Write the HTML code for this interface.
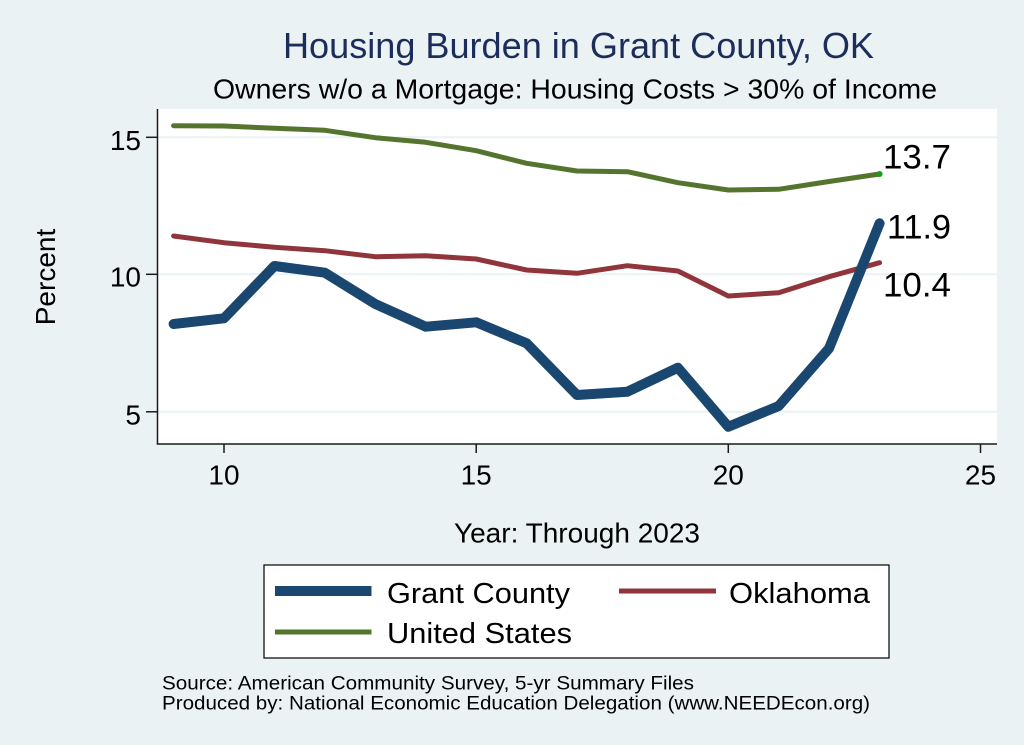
<!DOCTYPE html>
<html>
<head>
<meta charset="utf-8">
<style>
html,body{margin:0;padding:0;background:#eaf2f3;}
svg{display:block;}
text{font-family:"Liberation Sans",Arial,sans-serif;}
</style>
</head>
<body>
<svg width="1024" height="745" viewBox="0 0 1024 745" xmlns="http://www.w3.org/2000/svg">
  <rect x="0" y="0" width="1024" height="745" fill="#eaf2f3"/>
  <!-- Titles -->
  <text x="283" y="58" font-size="36" fill="#1c2d5c" textLength="591" lengthAdjust="spacingAndGlyphs">Housing Burden in Grant County, OK</text>
  <text x="213" y="98.5" font-size="28" fill="#000" textLength="724" lengthAdjust="spacingAndGlyphs">Owners w/o a Mortgage: Housing Costs &gt; 30% of Income</text>

  <!-- Plot area -->
  <rect x="157.5" y="109" width="839.5" height="335" fill="#ffffff"/>
  <!-- gridlines -->
  <g stroke="#eaf2f3" stroke-width="2">
    <line x1="158" y1="137.3" x2="997" y2="137.3"/>
    <line x1="158" y1="274.3" x2="997" y2="274.3"/>
    <line x1="158" y1="411.8" x2="997" y2="411.8"/>
  </g>

  <!-- Series -->
  <g fill="none" stroke-linejoin="round" stroke-linecap="round">
    <polyline stroke="#55752f" stroke-width="5" points="173.6,125.7 224,126 274.4,128.3 324.9,130.3 375.3,137.7 425.7,142.3 476.2,150.7 526.6,163.3 577,171 627.4,171.7 677.9,182.7 728.3,190 778.7,189.3 829.1,181.5 879.6,174"/>
    <polyline stroke="#90353b" stroke-width="5" points="173.6,236 224,242.7 274.4,247.3 324.9,250.7 375.3,256.7 425.7,255.7 476.2,259 526.6,270 577,273.3 627.4,265.7 677.9,271 728.3,296 778.7,292.7 829.1,276.7 879.6,262.7"/>
    <polyline stroke="#1a476f" stroke-width="10" points="173.6,324 224,318.3 274.4,266 324.9,272.7 375.3,304 425.7,326.7 476.2,322.3 526.6,343.3 577,395 627.4,391.7 677.9,367.7 728.3,426.7 778.7,406 829.1,348.3 879.6,223.3"/>
  </g>
  <circle cx="879.6" cy="174" r="3" fill="#1a9a1a"/>

  <!-- Axes -->
  <g stroke="#1a1a1a" stroke-width="1.5">
    <line x1="157.5" y1="109" x2="157.5" y2="444.5"/>
    <line x1="156.8" y1="444" x2="997" y2="444"/>
    <line x1="146" y1="137.3" x2="157.5" y2="137.3"/>
    <line x1="146" y1="274.3" x2="157.5" y2="274.3"/>
    <line x1="146" y1="411.8" x2="157.5" y2="411.8"/>
    <line x1="224" y1="444" x2="224" y2="453"/>
    <line x1="476.2" y1="444" x2="476.2" y2="453"/>
    <line x1="728.3" y1="444" x2="728.3" y2="453"/>
    <line x1="980.5" y1="444" x2="980.5" y2="453"/>
  </g>

  <!-- Tick labels -->
  <g font-size="28" fill="#000" text-anchor="end">
    <text x="141" y="150">15</text>
    <text x="141" y="286.7">10</text>
    <text x="141" y="424.3">5</text>
  </g>
  <g font-size="28" fill="#000" text-anchor="middle">
    <text x="224" y="484.5">10</text>
    <text x="476.2" y="484.5">15</text>
    <text x="728.3" y="484.5">20</text>
    <text x="980.5" y="484.5">25</text>
  </g>

  <!-- Axis titles -->
  <text x="577" y="542.7" font-size="28" fill="#000" text-anchor="middle">Year: Through 2023</text>
  <text transform="translate(55,277) rotate(-90)" x="0" y="0" font-size="28" fill="#000" text-anchor="middle">Percent</text>

  <!-- Marker labels -->
  <g font-size="34" fill="#000">
    <text x="883" y="168.3" textLength="68" lengthAdjust="spacingAndGlyphs">13.7</text>
    <text x="887" y="238.5" textLength="64" lengthAdjust="spacingAndGlyphs">11.9</text>
    <text x="883" y="296.7" textLength="68" lengthAdjust="spacingAndGlyphs">10.4</text>
  </g>

  <!-- Legend -->
  <rect x="264" y="565" width="625" height="93" fill="#ffffff" stroke="#000" stroke-width="1.2"/>
  <line x1="275" y1="591" x2="371.5" y2="591" stroke="#1a476f" stroke-width="10"/>
  <line x1="619" y1="591" x2="716" y2="591" stroke="#90353b" stroke-width="5"/>
  <line x1="275" y1="632" x2="371.5" y2="632" stroke="#55752f" stroke-width="5"/>
  <g font-size="29" fill="#000">
    <text x="387" y="603" textLength="183" lengthAdjust="spacingAndGlyphs">Grant County</text>
    <text x="729" y="603" textLength="141" lengthAdjust="spacingAndGlyphs">Oklahoma</text>
    <text x="387" y="643" textLength="185" lengthAdjust="spacingAndGlyphs">United States</text>
  </g>

  <!-- Footer -->
  <g font-size="19" fill="#000">
    <text x="162" y="689.5" textLength="532" lengthAdjust="spacingAndGlyphs">Source: American Community Survey, 5-yr Summary Files</text>
    <text x="162" y="709.5" textLength="708" lengthAdjust="spacingAndGlyphs">Produced by: National Economic Education Delegation (www.NEEDEcon.org)</text>
  </g>
</svg>
</body>
</html>
